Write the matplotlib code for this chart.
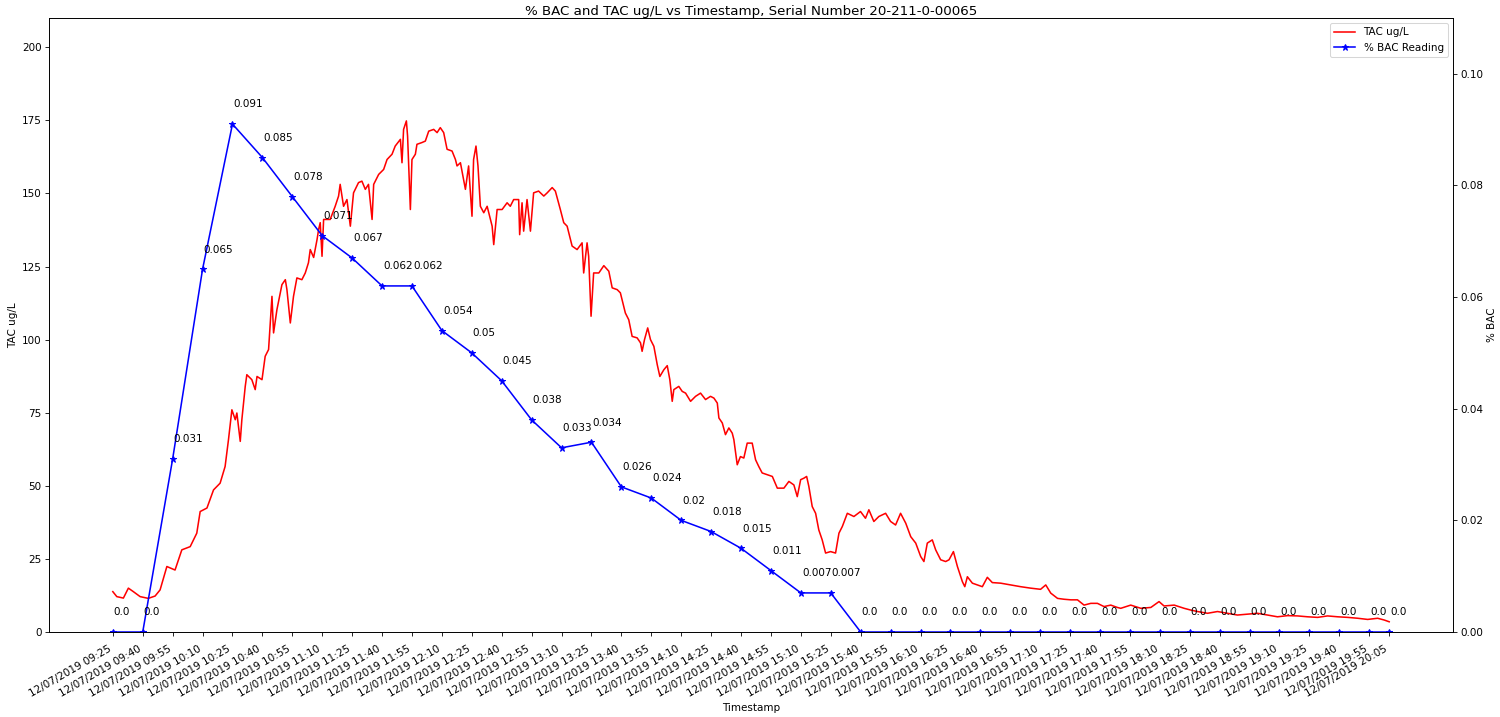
import datetime as dt
import matplotlib
matplotlib.use("Agg")
import matplotlib.pyplot as plt
import matplotlib.dates as mdates

# ---------------- data ----------------
start = dt.datetime(2019, 7, 12, 9, 25)

bac_times = ["09:25", "09:40", "09:55", "10:10", "10:25", "10:40", "10:55", "11:10",
             "11:25", "11:40", "11:55", "12:10", "12:25", "12:40", "12:55", "13:10",
             "13:25", "13:40", "13:55", "14:10", "14:25", "14:40", "14:55", "15:10",
             "15:25", "15:40", "15:55", "16:10", "16:25", "16:40", "16:55", "17:10",
             "17:25", "17:40", "17:55", "18:10", "18:25", "18:40", "18:55", "19:10",
             "19:25", "19:40", "19:55", "20:05"]
bac_values = [0.0, 0.0, 0.031, 0.065, 0.091, 0.085, 0.078, 0.071, 0.067, 0.062, 0.062,
              0.054, 0.05, 0.045, 0.038, 0.033, 0.034, 0.026, 0.024, 0.02, 0.018, 0.015,
              0.011, 0.007, 0.007, 0.0, 0.0, 0.0, 0.0, 0.0, 0.0, 0.0, 0.0, 0.0, 0.0, 0.0,
              0.0, 0.0, 0.0, 0.0, 0.0, 0.0, 0.0, 0.0]

# TAC readings: minutes after 09:25 and value (ug/L)
tac_minutes = [0.0, 2.0, 5.3, 7.8, 10.3, 13.7, 17.8, 21.2, 23.7, 27.1, 31.2, 34.6, 38.8,
               42.1, 43.8, 47.2, 50.5, 53.8, 56.3, 58.0, 59.7, 61.4, 62.2, 63.9, 64.7,
               66.4, 67.2, 69.7, 71.4, 72.3, 74.8, 76.4, 78.1, 79.8, 80.6, 82.3, 84.8,
               86.5, 87.3, 89.0, 90.6, 92.3, 94.8, 96.5, 98.1, 99.0, 100.7, 102.4, 103.2,
               104.0, 104.9, 105.7, 109.0,
               111.5, 113.2, 114.0, 115.7, 117.4, 119.1, 120.7, 123.2, 124.9, 126.6, 128.2,
               130.0, 130.8, 133.3, 135.8, 137.5, 140.0, 141.6, 144.2, 145.0, 145.8, 147.2,
               147.8, 149.2, 150.0, 151.7, 152.5, 155.0, 156.7, 158.4, 160.9, 162.6, 164.2,
               165.9, 167.6, 170.1, 171.8, 172.6, 174.3, 175.9, 176.8, 178.4, 180.1, 180.9,
               182.1, 183.1, 184.3, 186.0, 187.7, 190.2, 191.0, 192.7, 195.2, 197.7, 199.3,
               201.0, 203.5, 204.0, 205.2, 206.0, 207.7, 209.4, 211.0, 213.5, 216.1, 217.8,
               220.3, 221.9, 224.4, 226.1, 227.8, 230.3, 232.8, 235.3, 236.1, 237.8, 238.6,
               239.8, 241.1, 243.7, 246.2, 248.7, 250.4, 252.9, 254.5, 257.0, 258.7, 260.4,
               262.9, 264.6, 265.4, 266.6, 268.2, 269.6, 271.3, 273.0, 274.3, 276.3, 278.0,
               279.3, 280.5, 281.3, 283.8, 285.5, 287.2, 289.7, 292.2, 294.7, 297.2, 299.7,
               301.4, 303.1, 303.9, 305.6, 307.2, 308.9, 310.6, 311.4, 313.1, 314.7, 316.4,
               318.1, 320.6, 322.3, 323.9, 325.6, 328.1, 330.7, 333.2, 336.5, 339.0, 341.5,
               343.2, 344.9, 346.5, 347.9, 349.0, 350.7, 352.4, 354.0, 355.7, 357.4, 359.9,
               362.4, 364.1, 365.8, 368.3, 371.6, 374.9, 377.4, 379.1, 381.6, 384.1, 387.5,
               390.0, 392.5, 395.0, 397.6, 400.1, 402.6, 405.1, 406.7, 408.4, 410.9, 412.6,
               415.1, 417.6, 419.3, 421.5, 423.5, 426.0, 427.2, 428.5, 431.0, 433.5, 436.0,
               438.5, 441.0, 445.2, 450.2, 455.2, 460.2, 465.2, 467.8, 470.3, 473.7, 477.0,
               480.4, 483.7, 487.0, 490.4, 493.7, 497.0, 500.4, 503.7, 505.4, 510.4, 515.5,
               520.5, 524.6, 527.1, 532.2, 537.2, 540.5, 543.9, 548.9, 553.9, 558.9, 563.9,
               569.0, 574.0, 579.0, 584.0, 589.1, 594.1, 599.1, 604.1, 609.1, 614.2, 619.2,
               624.2, 629.2, 634.2, 637.5, 640.0]
tac_values = [13.8, 12.1, 11.6, 15.0, 13.8, 12.1, 11.5, 12.3, 14.4, 22.4, 21.2, 28.1, 29.2,
              33.8, 41.2, 42.4, 48.6, 50.9, 56.6, 65.8, 76.0, 72.6, 74.9, 65.2, 72.6,
              84.0, 88.0, 86.3, 82.9, 87.4, 86.3, 94.3, 96.6, 114.8, 102.3, 110.3, 118.8,
              120.5, 117.1, 105.7, 114.8, 121.1, 120.5, 122.8, 126.3, 130.8, 128.1, 134.2, 137.7,
              140.0, 128.5, 141.1, 141.1,
              145.6, 149.1, 153.1, 145.6, 147.9, 138.8, 150.2, 153.7, 154.2, 151.4, 153.1,
              141.1, 153.1, 156.5, 158.2, 161.6, 163.4, 166.2, 168.5, 160.5, 171.9, 174.8,
              169.6, 144.5, 161.6, 163.4, 166.8, 167.4, 167.9, 171.3, 171.9, 170.8, 172.5,
              170.8, 165.1, 164.5, 161.6, 159.4, 160.5, 154.8, 151.4, 159.4, 142.2, 161.6,
              166.2, 159.4, 145.6, 143.4, 145.6, 138.8, 132.5, 144.5, 144.5, 146.8, 145.6,
              147.9, 147.9, 135.9, 146.8, 137.1, 147.9, 137.1, 150.2, 150.8, 149.1, 150.2,
              152.0, 150.8, 144.5, 140.0, 138.8, 132.0, 130.8, 133.1, 122.8, 133.1, 128.5,
              108.0, 122.8, 122.8, 125.3, 123.4, 117.7, 117.1, 116.0, 109.1, 106.8, 101.1,
              100.6, 98.9, 96.0, 100.0, 104.0, 100.0, 97.7, 91.4, 87.4, 89.7, 91.1,
              86.3, 78.9, 82.9, 84.0, 82.3, 81.7, 78.9, 80.6, 81.7, 79.5, 80.6,
              80.0, 78.3, 73.2, 71.5, 67.5, 69.8, 68.0, 65.8, 57.2, 60.0, 59.5,
              64.6, 64.6, 58.9, 56.6, 54.4, 53.8, 53.2, 49.2, 49.2, 51.5, 50.3,
              46.3, 52.1, 52.6, 53.2, 49.8, 42.9, 40.6, 34.9, 31.5, 27.0, 27.5,
              27.0, 33.8, 36.1, 40.6, 39.5, 41.2, 38.9, 41.8, 37.8, 39.5, 40.6,
              37.8, 36.6, 40.6, 37.2, 32.6, 30.4, 25.8, 24.1, 30.4, 31.5, 28.1,
              24.7, 24.1, 24.7, 27.5, 22.4, 17.2, 15.5, 18.9, 16.7, 16.1, 15.5,
              18.7, 16.9, 16.7, 16.1, 15.5, 15.0, 14.6, 16.1, 13.3, 11.5, 11.2,
              11.0, 11.0, 9.2, 9.8, 9.8, 8.7, 9.2, 8.4, 8.1, 9.2, 8.1,
              8.4, 10.4, 8.9, 9.2, 8.1, 7.5, 7.0, 6.4, 7.0, 6.4, 5.8,
              6.1, 6.4, 5.8, 5.2, 5.6, 5.5, 5.2, 5.0, 5.5, 5.2, 5.0,
              4.7, 4.3, 4.7, 4.1, 3.5]

title = "% BAC and TAC ug/L vs Timestamp, Serial Number 20-211-0-00065"

# ---------------- build ----------------
bac_dt = [dt.datetime.combine(start.date(), dt.datetime.strptime(t, "%H:%M").time())
          for t in bac_times]
tac_dt = [start + dt.timedelta(minutes=m) for m in tac_minutes]

fig = plt.figure(figsize=(20, 9.56), dpi=75)
ax = fig.add_axes([49 / 1500, 1 - 632 / 717, (1453 - 49) / 1500, (632 - 18) / 717])
ax2 = ax.twinx()

l1, = ax.plot(tac_dt, tac_values, color="red", linewidth=1.5, label="TAC ug/L")
l2, = ax2.plot(bac_dt, bac_values, color="blue", linewidth=1.5, marker="*",
               markersize=6, label="% BAC Reading")

for t, v in zip(bac_dt, bac_values):
    ax2.annotate(str(v), (mdates.date2num(t), v), textcoords="offset points",
                 xytext=(1, 16), ha="left", fontsize=10)

ax.set_ylim(0, 210)
ax2.set_ylim(0, 0.11)
ax.set_yticks([0, 25, 50, 75, 100, 125, 150, 175, 200])
ax2.set_yticks([0.0, 0.02, 0.04, 0.06, 0.08, 0.10])
ax2.yaxis.set_major_formatter(matplotlib.ticker.FormatStrFormatter("%.2f"))

ax.set_xticks([mdates.date2num(t) for t in bac_dt])
ax.xaxis.set_major_formatter(mdates.DateFormatter("%d/%m/%Y %H:%M"))
ax.tick_params(axis="x", pad=8)
for lab in ax.get_xticklabels():
    lab.set_rotation(30)
    lab.set_ha("right")

ax.set_xlabel("Timestamp")
ax.set_ylabel("TAC ug/L")
ax2.set_ylabel("% BAC")
ax.set_title(title, fontsize=12.8, pad=3)

ax2.legend([l1, l2], [l1.get_label(), l2.get_label()], loc="upper right")

fig.savefig("out.png", dpi=75)
